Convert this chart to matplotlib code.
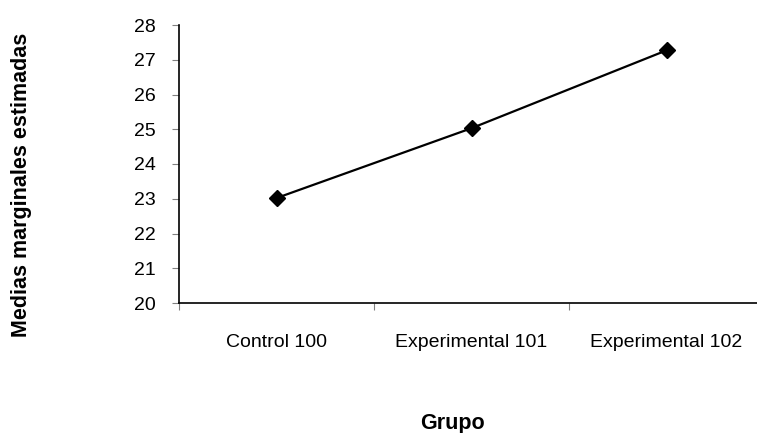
import matplotlib.pyplot as plt

plt.rcParams['font.family'] = ['Liberation Sans', 'DejaVu Sans']

grupos = ['Control 100', 'Experimental 101', 'Experimental 102']
medias = [23.02, 25.03, 27.27]

fig = plt.figure(figsize=(7.57, 4.33), dpi=100)
ax = fig.add_axes([179 / 757, 130 / 433, 585 / 757, 278 / 433])

x = [0.5, 1.5, 2.5]
ax.plot(x, medias, color='black', linewidth=1.6, marker='D', markersize=8.5,
        markerfacecolor='black', clip_on=False)

ax.set_xlim(0, 3)
ax.set_ylim(20, 28)
ax.set_yticks(range(20, 29))
ax.set_xticks([0, 1, 2, 3], minor=False)
ax.set_xticklabels([])
ax.set_xticks(x, minor=True)
ax.set_xticklabels(grupos, minor=True)
ax.tick_params(axis='x', which='minor', length=0, pad=22, labelsize=14)
ax.tick_params(axis='x', which='major', length=5, color='#808080')
ax.tick_params(axis='y', length=5, color='#808080', labelsize=14, pad=12)

for side in ['top', 'right']:
    ax.spines[side].set_visible(False)
ax.spines['left'].set_linewidth(1.2)
ax.spines['bottom'].set_linewidth(1.2)

fig.text(22 / 757, 1 - 185 / 433, 'Medias marginales estimadas', rotation=90,
         ha='center', va='center', fontsize=15.5, fontweight='bold')
fig.text(452 / 757, 1 - 424 / 433, 'Grupo', ha='center', va='center',
         fontsize=15.5, fontweight='bold')

fig.savefig('out.png', dpi=100)
